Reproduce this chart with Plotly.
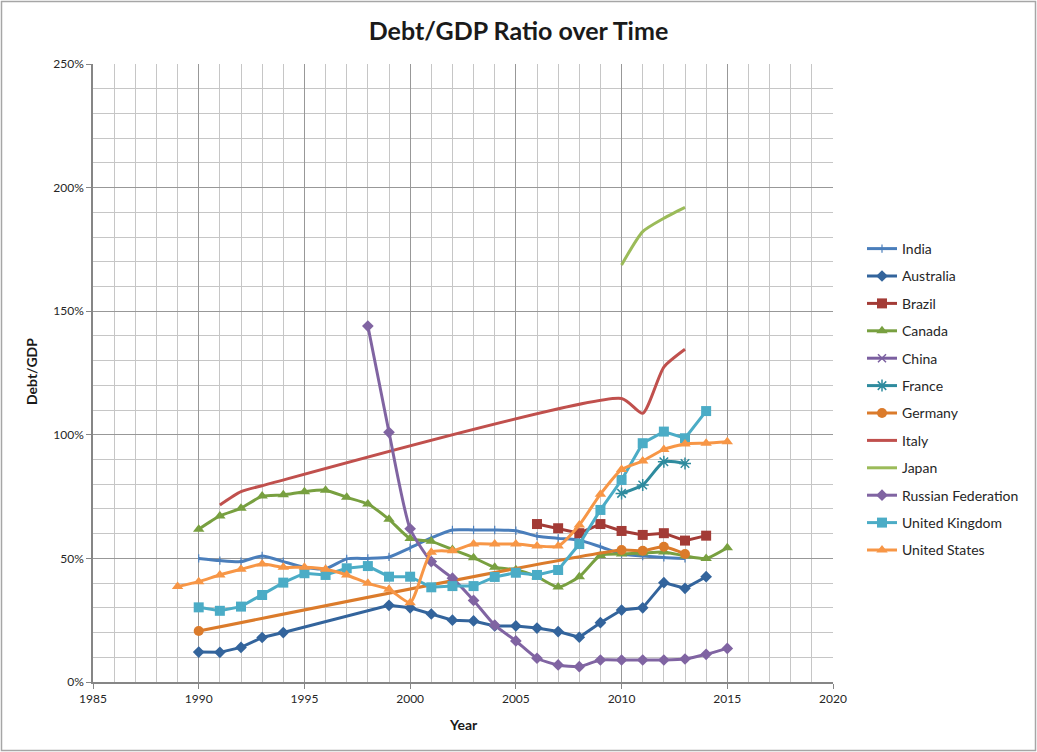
import plotly.graph_objects as go

# Debt to GDP ratio (%) by country and year
india_years = list(range(1990, 2014))
india_vals = [50.0, 49.1, 48.7, 51.0, 48.7, 46.4, 45.8, 49.8, 50.0, 50.6, 54.3, 58.3,
              61.5, 61.5, 61.5, 61.2, 59.0, 58.1, 57.4, 54.7, 51.8, 51.0, 50.4, 50.0]

australia_years = [1990, 1991, 1992, 1993, 1994, 1999, 2000, 2001, 2002, 2003, 2004, 2005,
                   2006, 2007, 2008, 2009, 2010, 2011, 2012, 2013, 2014]
australia_vals = [12.1, 12.0, 14.0, 18.0, 20.0, 31.0, 30.0, 27.5, 25.0, 24.7, 22.7, 22.7,
                  21.8, 20.4, 18.1, 24.0, 29.1, 30.0, 40.2, 37.9, 42.6]

brazil_years = list(range(2006, 2015))
brazil_vals = [63.9, 62.2, 60.2, 63.9, 61.1, 59.5, 60.2, 57.2, 59.2]

canada_years = list(range(1990, 2016))
canada_vals = [61.8, 67.2, 70.3, 75.2, 75.7, 77.0, 77.6, 74.7, 72.0, 65.8, 58.0, 56.9,
               53.6, 50.3, 46.4, 45.4, 42.6, 38.4, 42.6, 51.2, 51.8, 52.2, 52.6, 51.0, 50.0, 54.3]

# no values reported for China
china_years = [2000]
china_vals = [None]

france_years = [2010, 2011, 2012, 2013]
france_vals = [76.3, 79.7, 89.1, 88.4]

germany_years = [1990, 2010, 2011, 2012, 2013]
germany_vals = [20.6, 53.4, 53.1, 54.7, 51.8]

italy_years = [1991, 1992, 1993, 2010, 2011, 2012, 2013]
italy_vals = [71.6, 77.0, 79.4, 114.7, 108.7, 127.4, 134.6]

japan_years = [2010, 2011, 2012, 2013]
japan_vals = [168.7, 182.2, 187.6, 192.0]

russia_years = [1998, 1999, 2000, 2001, 2002, 2003, 2004, 2005, 2006, 2007, 2008,
                2009, 2010, 2011, 2012, 2013, 2014, 2015]
russia_vals = [144.0, 101.0, 62.0, 48.7, 42.0, 33.0, 23.0, 16.6, 9.6, 6.9, 6.2,
               8.9, 8.9, 8.9, 8.9, 9.3, 11.2, 13.6]

uk_years = list(range(1990, 2015))
uk_vals = [30.2, 28.8, 30.5, 35.2, 40.2, 44.0, 43.3, 46.0, 46.9, 42.6, 42.6, 38.3,
           38.8, 38.8, 42.5, 44.2, 43.3, 45.3, 55.8, 69.6, 81.7, 96.6, 101.3, 98.6, 109.6]

us_years = list(range(1989, 2016))
us_vals = [38.6, 40.6, 43.3, 45.6, 47.7, 46.4, 46.4, 45.6, 43.3, 39.9, 37.5, 32.1, 52.5,
           53.1, 55.8, 55.8, 55.8, 55.0, 55.0, 63.5, 76.0, 86.0, 89.4, 94.1, 96.3, 96.6, 97.2]

x_ticks = [1985, 1990, 1995, 2000, 2005, 2010, 2015, 2020]
y_ticks = [0, 50, 100, 150, 200, 250]

FONT = "Lato, 'Open Sans', sans-serif"

series = [
    ("India", india_years, india_vals, "#4A7EBB", dict(symbol="line-ns", size=6, line=dict(width=1.2, color="#4A7EBB")), True),
    ("Australia", australia_years, australia_vals, "#33649C", dict(symbol="diamond", size=9), False),
    ("Brazil", brazil_years, brazil_vals, "#A33B36", dict(symbol="square", size=10), False),
    ("Canada", canada_years, canada_vals, "#78A040", dict(symbol="triangle-up", size=10), True),
    ("China", china_years, china_vals, "#7B5FA0", dict(symbol="x-thin", size=8, line=dict(width=1.5, color="#7B5FA0")), False),
    ("France", france_years, france_vals, "#2E8B9E", dict(symbol="asterisk", size=10, line=dict(width=1.5, color="#2E8B9E")), True),
    ("Germany", germany_years, germany_vals, "#DB7B2B", dict(symbol="circle", size=10), True),
    ("Italy", italy_years, italy_vals, "#C0504D", None, True),
    ("Japan", japan_years, japan_vals, "#9BBB59", None, True),
    ("Russian Federation", russia_years, russia_vals, "#8064A2", dict(symbol="diamond", size=9), True),
    ("United Kingdom", uk_years, uk_vals, "#4BACC6", dict(symbol="square", size=10), False),
    ("United States", us_years, us_vals, "#F79646", dict(symbol="triangle-up", size=10), True),
]

fig = go.Figure()
for name, xs, ys, color, marker, smooth in series:
    kw = dict(marker=dict(color=color, **marker), mode="lines+markers") if marker else dict(mode="lines")
    fig.add_trace(go.Scatter(
        x=xs, y=ys, name=name, legendgroup=name,
        line=dict(color=color, width=3, shape="spline" if smooth else "linear", smoothing=0.6),
        **kw,
    ))

L, R, T, B = 93, 204, 64, 70
W, H = 1037, 752
pw, ph = W - L - R, H - T - B

fig.update_layout(
    width=W, height=H,
    margin=dict(l=L, r=R, t=T, b=B),
    paper_bgcolor="white", plot_bgcolor="white",
    font=dict(family=FONT, size=12, color="#262626"),
    title=dict(text="<b>Debt/GDP Ratio over Time</b>", x=0.5, xref="container",
               y=1 - 31 / H, yref="container", yanchor="middle", xanchor="center",
               font=dict(size=25, color="#1a1a1a", family=FONT)),
    showlegend=True,
    legend=dict(x=(862 - L) / pw, y=1 - (233 - T) / ph, xanchor="left", yanchor="top",
                font=dict(size=14, color="#262626", family=FONT),
                traceorder="grouped", tracegroupgap=6.2, bgcolor="rgba(0,0,0,0)",
                itemwidth=30),
    xaxis=dict(range=[1985, 2020], tickvals=x_ticks, ticktext=[str(v) for v in x_ticks],
               showgrid=True, gridcolor="#989898", gridwidth=1,
               minor=dict(dtick=1, showgrid=True, gridcolor="#C6C6C6", gridwidth=1),
               showline=True, linecolor="#868686", linewidth=1.5,
               ticks="outside", ticklen=5, tickcolor="#868686",
               zeroline=False, tickfont=dict(size=12, color="#262626")),
    yaxis=dict(range=[0, 250], tickvals=y_ticks, ticktext=[f"{v}%" for v in y_ticks],
               showgrid=True, gridcolor="#989898", gridwidth=1,
               minor=dict(dtick=10, showgrid=True, gridcolor="#C6C6C6", gridwidth=1),
               showline=True, linecolor="#868686", linewidth=1.5,
               ticks="outside", ticklen=5, tickcolor="#868686",
               zeroline=False, tickfont=dict(size=12, color="#262626")),
    annotations=[
        dict(text="<b>Year</b>", x=0.5, xref="paper", y=1 - (724 - T) / ph, yref="paper",
             showarrow=False, xanchor="center", yanchor="middle", font=dict(size=14, color="#1a1a1a")),
        dict(text="<b>Debt/GDP</b>", x=(31 - L) / pw, xref="paper", y=1 - (372 - T) / ph, yref="paper",
             showarrow=False, xanchor="center", yanchor="middle", textangle=-90,
             font=dict(size=14, color="#1a1a1a")),
    ],
    shapes=[
        dict(type="rect", xref="paper", yref="paper",
             x0=(1.5 - L) / pw, x1=(W - 1.5 - L) / pw,
             y0=-(B - 1.5) / ph, y1=1 + (T - 1.5) / ph,
             line=dict(color="#A6A6A6", width=1.5), fillcolor="rgba(0,0,0,0)", layer="below"),
    ],
)

fig.write_html("out.html")
